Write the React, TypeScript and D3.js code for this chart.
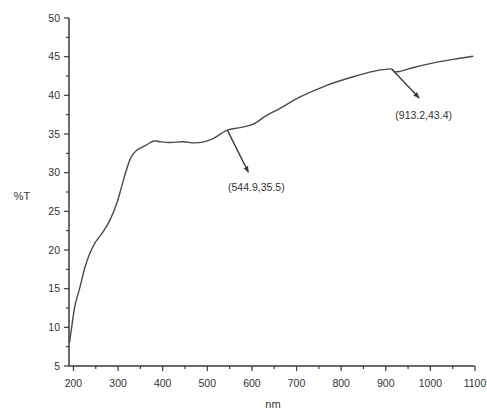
import React from "react";
import * as d3 from "d3";

// Transmittance spectrum (%T vs wavelength, nm)
const wavelength = [
  191, 196, 203, 215, 226, 237, 248, 267, 282, 297, 308, 319, 330, 342, 364,
  380, 394, 416, 446, 470, 490, 513, 544.9, 570, 600, 633, 663, 708, 768, 827,
  872, 900, 913.2, 920, 932, 962, 1007, 1051, 1096,
];
const transmittance = [
  8.0, 10.0, 12.7, 15.3, 17.8, 19.6, 20.9, 22.4, 23.9, 26.0, 28.2, 30.4, 32.1,
  32.9, 33.6, 34.1, 34.0, 33.9, 34.0, 33.85, 33.95, 34.4, 35.5, 35.8, 36.2,
  37.4, 38.3, 39.8, 41.3, 42.4, 43.1, 43.35, 43.4, 43.05, 43.1, 43.6, 44.2,
  44.65, 45.05,
];

const xTicks = [200, 300, 400, 500, 600, 700, 800, 900, 1000, 1100];
const xMinorTicks = [250, 350, 450, 550, 650, 750, 850, 950, 1050];
const yTicks = [5, 10, 15, 20, 25, 30, 35, 40, 45, 50];
const yMinorTicks = [7.5, 12.5, 17.5, 22.5, 27.5, 32.5, 37.5, 42.5, 47.5];

const annotX = [544.9, 913.2];
const annotY = [35.5, 43.4];

const W = 487;
const H = 412;
const left = 69;
const right = 475;
const top = 18;
const bottom = 366;

export default function App() {
  const x = d3.scaleLinear().domain([190, 1100]).range([left, right]);
  const y = d3.scaleLinear().domain([5, 50]).range([bottom, top]);

  const pts: [number, number][] = wavelength.map((w, i) => [w, transmittance[i]]);
  const line = d3
    .line<[number, number]>()
    .x((d) => x(d[0]))
    .y((d) => y(d[1]))
    .curve(d3.curveCatmullRom.alpha(0.5));

  const font = "'Liberation Sans', Arial, sans-serif";
  const ink = "#3a3a3a";

  // arrow and label offsets, in pixels, from each annotated point
  const arrowOff = [
    [21, 42],
    [27.5, 29],
  ];
  const labelOff = [
    [29, 57],
    [32, 46],
  ];

  return (
    <svg
      width={W}
      height={H}
      style={{ position: "absolute", left: 0, top: 0, background: "#fff" }}
    >
      <defs>
        <marker
          id="ah"
          viewBox="0 0 10 10"
          refX="9"
          refY="5"
          markerWidth="5"
          markerHeight="5"
          orient="auto-start-reverse"
        >
          <path d="M0,1 L10,5 L0,9 z" fill={ink} />
        </marker>
      </defs>

      {/* axes */}
      <line x1={left} x2={left} y1={top} y2={bottom} stroke={ink} strokeWidth={1.5} />
      <line x1={left} x2={right} y1={bottom} y2={bottom} stroke={ink} strokeWidth={1.5} />

      {yTicks.map((t) => (
        <g key={"y" + t}>
          <line x1={left - 5} x2={left} y1={y(t)} y2={y(t)} stroke={ink} strokeWidth={1.2} />
          <text
            x={left - 9}
            y={y(t)}
            dy="0.35em"
            textAnchor="end"
            fontSize={10.5}
            fontFamily={font}
            fill="#333"
          >
            {t}
          </text>
        </g>
      ))}
      {yMinorTicks.map((t) => (
        <line key={"ym" + t} x1={left - 3} x2={left} y1={y(t)} y2={y(t)} stroke={ink} strokeWidth={1.2} />
      ))}

      {xTicks.map((t) => (
        <g key={"x" + t}>
          <line x1={x(t)} x2={x(t)} y1={bottom} y2={bottom + 5} stroke={ink} strokeWidth={1.2} />
          <text
            x={x(t)}
            y={bottom + 17}
            dy="0.35em"
            textAnchor="middle"
            fontSize={10.5}
            fontFamily={font}
            fill="#333"
          >
            {t}
          </text>
        </g>
      ))}
      {xMinorTicks.map((t) => (
        <line key={"xm" + t} x1={x(t)} x2={x(t)} y1={bottom} y2={bottom + 3} stroke={ink} strokeWidth={1.2} />
      ))}

      <text x={22} y={196} dy="0.35em" textAnchor="middle" fontSize={11} fontFamily={font} fill="#333">
        %T
      </text>
      <text x={273} y={404} dy="0.35em" textAnchor="middle" fontSize={11} fontFamily={font} fill="#333">
        nm
      </text>

      {/* spectrum */}
      <path d={line(pts) || ""} fill="none" stroke="#4a4a4a" strokeWidth={1.4} />

      {/* annotations */}
      {annotX.map((ax, i) => {
        const px = x(ax);
        const py = y(annotY[i]);
        return (
          <g key={"a" + i}>
            <line
              x1={px}
              y1={py}
              x2={px + arrowOff[i][0]}
              y2={py + arrowOff[i][1]}
              stroke={ink}
              strokeWidth={1.3}
              markerEnd="url(#ah)"
            />
            <text
              x={px + labelOff[i][0]}
              y={py + labelOff[i][1]}
              dy="0.35em"
              textAnchor="middle"
              fontSize={10.5}
              fontFamily={font}
              fill="#333"
            >
              ({ax},{annotY[i]})
            </text>
          </g>
        );
      })}
    </svg>
  );
}
